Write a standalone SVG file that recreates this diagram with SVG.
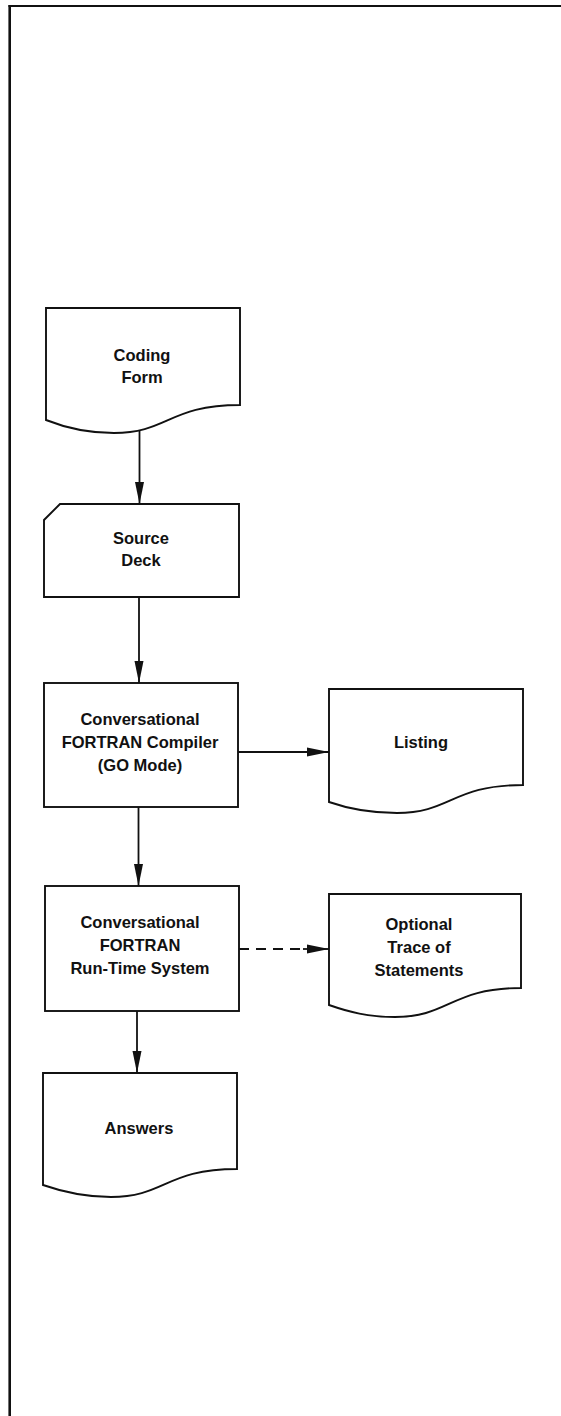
<svg xmlns="http://www.w3.org/2000/svg" width="561" height="1416" viewBox="0 0 561 1416">
  <defs>
    <marker id="arrow" viewBox="0 0 22 10" refX="22" refY="5" markerWidth="22" markerHeight="10" markerUnits="userSpaceOnUse" orient="auto">
      <path d="M0,0.5 L22,5 L0,9.5 Z" fill="#111"/>
    </marker>
    <style>
      .shape { fill: #fff; stroke: #111; stroke-width: 1.9; stroke-linejoin: miter; }
      .lbl { font-family: "Liberation Sans", Arial, sans-serif; font-weight: bold; font-size: 16.5px; fill: #111; text-anchor: middle; }
      .conn { fill: none; stroke: #111; stroke-width: 1.8; }
      .dash { stroke-dasharray: 10 7; }
      .frame { stroke: #111; fill: none; }
    </style>
  </defs>

  <rect width="561" height="1416" fill="#fff"/>

  <!-- page frame: top and left rules -->
  <g id="frame">
    <line class="frame" x1="8.5" y1="6" x2="561" y2="6" stroke-width="2"/>
    <line class="frame" x1="9.7" y1="5" x2="9.7" y2="1416" stroke-width="2.6"/>
  </g>

  <!-- document symbol: Coding Form -->
  <g id="coding-form">
    <path class="shape" d="M46,308 H240 V405 C169,405 168,433 114,433 C86,433 66,428 46,420 Z"/>
    <text class="lbl" x="142" y="361">Coding</text>
    <text class="lbl" x="142" y="383">Form</text>
  </g>

  <!-- punched card symbol: Source Deck -->
  <g id="source-deck">
    <path class="shape" d="M60,504 H239 V597 H44 V520 Z"/>
    <text class="lbl" x="141" y="544">Source</text>
    <text class="lbl" x="141" y="566">Deck</text>
  </g>

  <!-- process: compiler -->
  <g id="compiler">
    <rect class="shape" x="44" y="683" width="194" height="124"/>
    <text class="lbl" x="140" y="725">Conversational</text>
    <text class="lbl" x="140" y="748">FORTRAN Compiler</text>
    <text class="lbl" x="140" y="771">(GO Mode)</text>
  </g>

  <!-- document symbol: Listing -->
  <g id="listing">
    <path class="shape" d="M329,689 H523 V785 C452,785 451,813 397,813 C369,813 349,809 329,802 Z"/>
    <text class="lbl" x="421" y="748">Listing</text>
  </g>

  <!-- process: run-time system -->
  <g id="runtime">
    <rect class="shape" x="45" y="886" width="194" height="125"/>
    <text class="lbl" x="140" y="928">Conversational</text>
    <text class="lbl" x="140" y="951">FORTRAN</text>
    <text class="lbl" x="140" y="974">Run-Time System</text>
  </g>

  <!-- document symbol: optional trace -->
  <g id="trace">
    <path class="shape" d="M329,894 H521 V988 C451,988 449,1017 395,1017 C368,1017 349,1012 329,1005 Z"/>
    <text class="lbl" x="419" y="930">Optional</text>
    <text class="lbl" x="419" y="953">Trace of</text>
    <text class="lbl" x="419" y="976">Statements</text>
  </g>

  <!-- document symbol: Answers -->
  <g id="answers">
    <path class="shape" d="M43,1073 H237 V1169 C166,1169 165,1197 111,1197 C83,1197 63,1192 43,1185 Z"/>
    <text class="lbl" x="139" y="1134">Answers</text>
  </g>

  <!-- flow lines -->
  <g id="connectors">
    <line class="conn" x1="139.5" y1="431" x2="139.5" y2="504" marker-end="url(#arrow)"/>
    <line class="conn" x1="139" y1="597" x2="139" y2="683" marker-end="url(#arrow)"/>
    <line class="conn" x1="238" y1="752" x2="329" y2="752" marker-end="url(#arrow)"/>
    <line class="conn" x1="138.5" y1="807" x2="138.5" y2="886" marker-end="url(#arrow)"/>
    <line class="conn dash" x1="239" y1="949" x2="303" y2="949"/>
    <line class="conn" x1="303" y1="949" x2="329" y2="949" marker-end="url(#arrow)"/>
    <line class="conn" x1="137" y1="1011" x2="137" y2="1073" marker-end="url(#arrow)"/>
  </g>
</svg>
